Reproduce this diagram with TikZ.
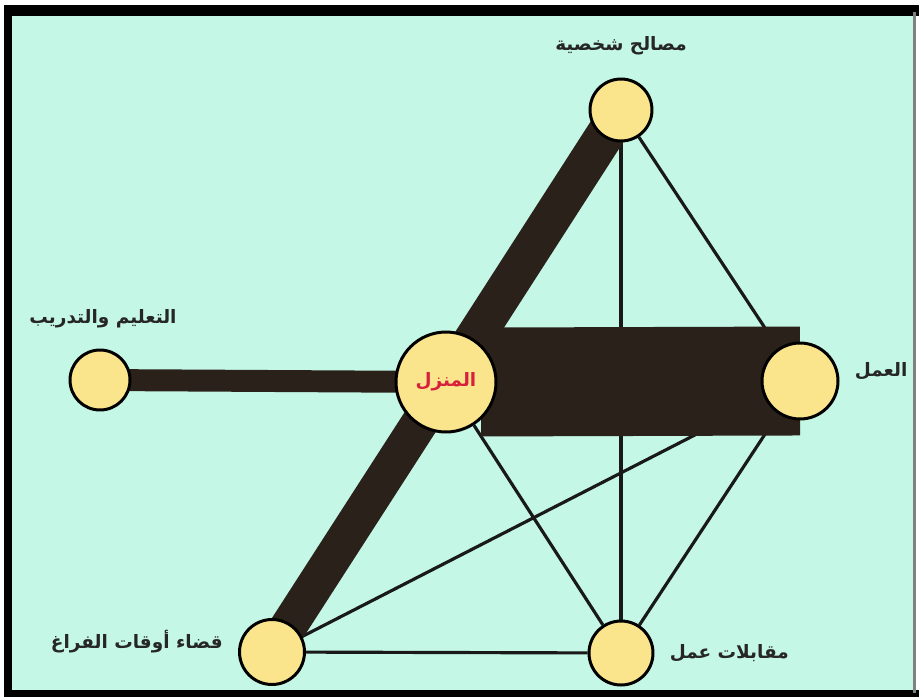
\documentclass[tikz,border=0pt]{standalone}
\usepackage{fontspec}
\usetikzlibrary{positioning,backgrounds}
\newfontfamily\arabicfont[Script=Arabic]{DejaVu Sans}
\TeXXeTstate=1
\definecolor{mint}{RGB}{196,247,230}
\definecolor{pale}{RGB}{250,229,140}
\definecolor{barbrown}{RGB}{43,33,27}
\definecolor{homered}{RGB}{214,32,60}

\begin{document}
\begin{tikzpicture}[x=0.02cm, y=-0.02cm,
    hub/.style={circle, draw=black, line width=1.7pt, fill=pale, inner sep=0pt},
    lbl/.style={font=\arabicfont\bfseries\fontsize{10.5}{12}\selectfont, text=black!85, inner sep=0pt},
    link/.style={line width=1.8pt, draw=black!90},
    heavy/.style={draw=barbrown, line cap=butt}]
    \useasboundingbox (0,0) rectangle (919,697);

    % the six places
    \node[hub, minimum size=2.0cm, font=\arabicfont\bfseries\fontsize{10.5}{12}\selectfont, text=homered] (home) at (446,382) {\beginR المنزل\endR};
    \node[hub, minimum size=1.24cm] (personal) at (621,110) {};
    \node[hub, minimum size=1.2cm] (study) at (100,380) {};
    \node[hub, minimum size=1.52cm] (work) at (800,381) {};
    \node[hub, minimum size=1.3cm] (leisure) at (272,652) {};
    \node[hub, minimum size=1.28cm] (interview) at (621,653) {};

    % labels
    \node[lbl, above=0.45cm of personal] (personal-lbl) {\beginR مصالح شخصية\endR};
    \node[lbl, above=0.4cm of study, xshift=0.06cm] (study-lbl) {\beginR التعليم والتدريب\endR};
    \node[lbl, right=0.3cm of work, yshift=0.2cm] (work-lbl) {\beginR العمل\endR};
    \node[lbl, left=0.3cm of leisure, yshift=0.2cm] (leisure-lbl) {\beginR قضاء أوقات الفراغ\endR};
    \node[lbl, right=0.3cm of interview] (interview-lbl) {\beginR مقابلات عمل\endR};

    \begin{scope}[on background layer]
        % frame
        \fill[mint] (8,12) rectangle (915,693);
        \fill[black] (4,5) rectangle (919,16);
        \fill[black] (4,5) rectangle (12,697);
        \fill[black] (4,690) rectangle (919,697);
        \fill[gray] (913,12) rectangle (916,693);
        % thin links
        \draw[link] (personal) -- (work);
        \draw[link] (personal) -- (interview);
        \draw[link] (home) -- (interview);
        \draw[link] (work) -- (interview);
        \draw[link] (work) -- (leisure);
        \draw[link] (leisure) -- (interview);
        % heavy links
        \draw[heavy, line width=12.5pt] (study.center) -- (home.center);
        \draw[heavy, line width=22pt] (home.center) -- (personal.center);
        \draw[heavy, line width=21pt] (home.center) -- (leisure.center);
        \draw[heavy, line width=62pt] ([xshift=0.7cm]home.center) -- (work.center);
    \end{scope}
\end{tikzpicture}
\end{document}
